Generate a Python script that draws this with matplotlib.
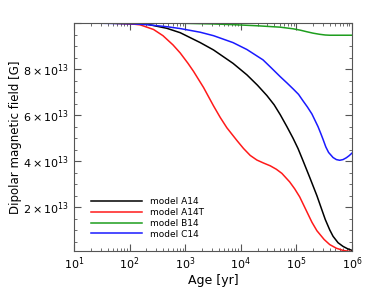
import numpy as np
import matplotlib
matplotlib.use("Agg")
import matplotlib.pyplot as plt
from matplotlib.ticker import FuncFormatter, MultipleLocator

# log10(age / yr) and field in units of 1e13 G
logt_a14 = [1.0, 1.7, 2.31, 2.67, 2.91, 3.27, 3.51, 3.86, 4.11, 4.3, 4.47, 4.6, 4.71,
            4.83, 4.94, 5.03, 5.12, 5.24, 5.37, 5.45, 5.52, 5.6, 5.66, 5.75, 5.84,
            5.92, 6.0]
b_a14 = [10.0, 9.99, 9.95, 9.77, 9.58, 9.15, 8.83, 8.25, 7.75, 7.3, 6.85, 6.45, 6.02,
         5.5, 5.0, 4.55, 4.02, 3.3, 2.5, 1.95, 1.47, 1.02, 0.74, 0.46, 0.3,
         0.2, 0.13]

logt_a14t = [1.0, 1.7, 2.0, 2.19, 2.43, 2.6, 2.78, 2.91, 3.05, 3.15, 3.33, 3.51, 3.63,
             3.75, 3.93, 4.05, 4.17, 4.29, 4.41, 4.53, 4.64, 4.74, 4.88, 4.97, 5.06,
             5.19, 5.28, 5.37, 5.5, 5.6, 5.72, 5.85, 6.0]
b_a14t = [10.0, 9.99, 9.97, 9.92, 9.72, 9.45, 9.05, 8.7, 8.25, 7.9, 7.2, 6.4, 5.9,
          5.45, 4.9, 4.55, 4.25, 4.05, 3.92, 3.8, 3.65, 3.47, 3.1, 2.8, 2.45,
          1.8, 1.35, 0.98, 0.6, 0.38, 0.22, 0.12, 0.07]

logt_b14 = [1.86, 2.91, 3.5, 3.86, 4.3, 4.71, 4.94, 5.07, 5.19, 5.3, 5.42, 5.52, 5.6, 6.0]
b_b14 = [10.0, 9.99, 9.96, 9.93, 9.88, 9.82, 9.75, 9.69, 9.62, 9.56, 9.51, 9.48, 9.47, 9.47]

logt_c14 = [1.22, 2.0, 2.31, 2.67, 2.91, 3.27, 3.51, 3.86, 4.11, 4.40, 4.55, 4.71, 4.83,
            4.95, 5.04, 5.12, 5.2, 5.28, 5.34, 5.39, 5.44, 5.48, 5.53, 5.58, 5.66,
            5.72, 5.78, 5.84, 5.90, 5.95, 6.0]
b_c14 = [10.0, 9.97, 9.93, 9.84, 9.76, 9.6, 9.45, 9.15, 8.85, 8.4, 8.05, 7.67, 7.4,
         7.12, 6.9, 6.62, 6.35, 6.05, 5.75, 5.5, 5.2, 4.95, 4.62, 4.38, 4.16,
         4.07, 4.04, 4.07, 4.15, 4.24, 4.35]

models = [
    ("model A14", logt_a14, b_a14, "black"),
    ("model A14T", logt_a14t, b_a14t, "#ff1a1a"),
    ("model B14", logt_b14, b_b14, "#1e9e1e"),
    ("model C14", logt_c14, b_c14, "#1a1aff"),
]
draw_order = [0, 1, 3, 2]

fig = plt.figure(figsize=(3.74, 2.99), dpi=100)
ax = fig.add_axes([0.198, 0.1605, 0.743, 0.7625])

lines = {}
for i in draw_order:
    name, lt, b, c = models[i]
    lines[i], = ax.plot(10 ** np.array(lt), np.array(b) * 1e13, color=c, lw=1.1, label=name)

ax.set_xscale("log")
ax.set_xlim(10, 1e6)
ax.set_ylim(1e12, 1e14)
ax.yaxis.set_major_locator(MultipleLocator(2e13))
ax.yaxis.set_minor_locator(MultipleLocator(0.5e13))


def ylab(v, p):
    k = round(v / 1e13)
    if k <= 0 or k >= 10:
        return ""
    return r"$%d\times10^{13}$" % k


ax.yaxis.set_major_formatter(FuncFormatter(ylab))

for s in ax.spines.values():
    s.set_color("#555555")
ax.tick_params(which="both", direction="in", top=True, right=True, colors="#555555",
               labelcolor="black", labelsize=8)
ax.tick_params(which="major", length=5)
ax.tick_params(which="minor", length=2.5)

ax.set_xlabel("Age [yr]", fontsize=9, labelpad=1)
ax.set_ylabel("Dipolar magnetic field [G]", fontsize=8.5, labelpad=1)

ax.legend([lines[i] for i in range(4)], [m[0] for m in models], loc="lower left",
          bbox_to_anchor=(0.045, 0.035), frameon=False, fontsize=6.5, handlelength=5.6,
          labelspacing=0.2, handletextpad=0.9, borderpad=0)

fig.savefig("out.png", dpi=100)
